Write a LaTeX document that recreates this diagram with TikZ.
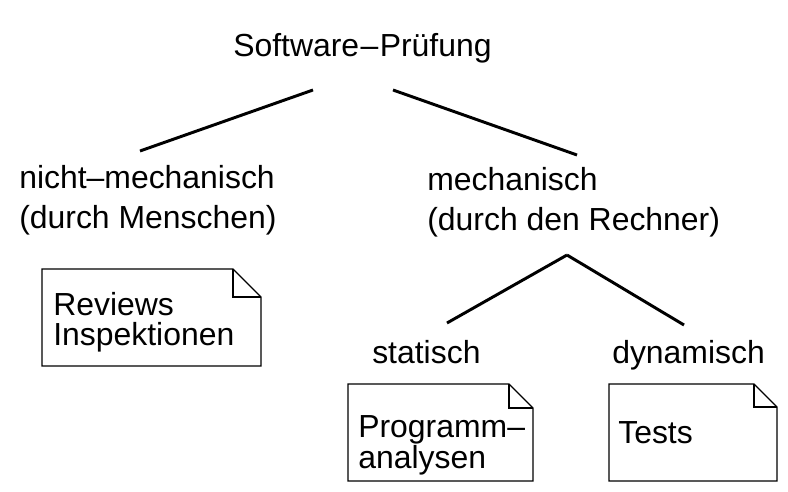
\documentclass[tikz,border=0pt]{standalone}
\usepackage{fontspec}
\setmainfont{Liberation Sans}
\begin{document}
\begin{tikzpicture}[x=0.025cm, y=-0.025cm, line join=miter, line cap=butt,
	lbl/.style={anchor=base west, inner sep=0pt, font=\fontsize{22.7}{27}\selectfont},
	edge/.style={line width=2.1pt},
	notebox/.style={line width=0.9pt}]
	\useasboundingbox (0,0) rectangle (788,492);
	% note with folded corner: x1, y1, x2, y2, fold
	\def\notepath#1#2#3#4#5{%
		\draw[notebox] (#1,#2) -- (#3-#5,#2) -- (#3,#2+#5) -- (#3,#4) -- (#1,#4) -- cycle;
		\draw[notebox] (#3-#5,#2) -- (#3-#5,#2+#5) -- (#3,#2+#5);}
	% labels
	\node[lbl] (root) at (233,57) {Software\kern1pt--\kern1ptPrüfung};
	\node[lbl] (nm1) at (19,189) {nicht--mechanisch};
	\node[lbl] (nm2) at (19,228) {(durch Menschen)};
	\node[lbl] (m1) at (427,190) {mechanisch};
	\node[lbl] (m2) at (427,230) {(durch den Rechner)};
	\node[lbl] (stat) at (372,363) {statisch};
	\node[lbl] (dyn) at (612,363) {dynamisch};
	% connectors
	\coordinate (rl) at (313,90);
	\coordinate (rr) at (393,90);
	\coordinate (nmt) at (140,151);
	\coordinate (mt) at (577,155);
	\coordinate (mb) at (567,255);
	\coordinate (st) at (447,323);
	\coordinate (dt) at (684,325);
	\draw[edge] (rl) -- (nmt);
	\draw[edge] (rr) -- (mt);
	\draw[edge] (mb) -- (st);
	\draw[edge] (mb) -- (dt);
	% notes
	\notepath{42}{269}{261}{366}{28}
	\node[lbl] (rev) at (53,315) {Reviews};
	\node[lbl] (insp) at (53,345) {Inspektionen};
	\notepath{348}{384}{533}{481}{24}
	\node[lbl] (prog) at (358,437) {Programm--};
	\node[lbl] (ana) at (358,468) {analysen};
	\notepath{609}{384}{777}{481}{23}
	\node[lbl] (test) at (618,443) {Tests};
\end{tikzpicture}
\end{document}
